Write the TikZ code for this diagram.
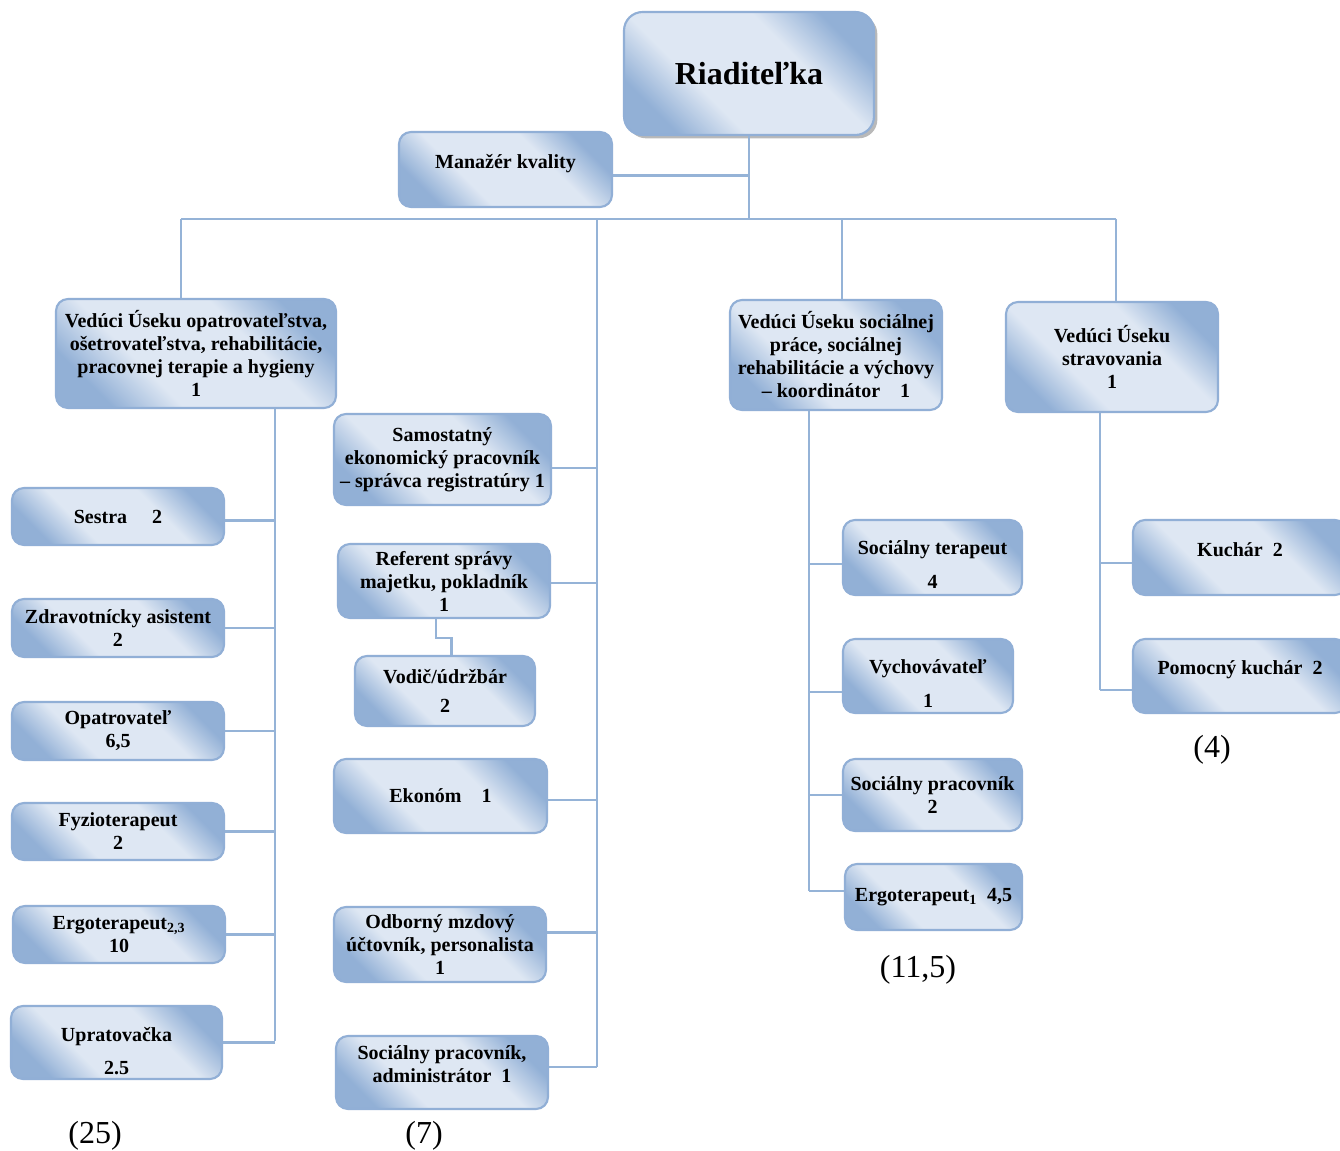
\documentclass[tikz,border=0pt]{standalone}
\usepackage{fontspec}
\setmainfont{Liberation Serif}
\usetikzlibrary{shadows,calc}
\definecolor{bdark}{RGB}{146,176,214}
\definecolor{blight}{RGB}{222,231,243}
\definecolor{bline}{RGB}{149,179,215}
\definecolor{bborder}{RGB}{145,175,214}
\pgfdeclarehorizontalshading{bxshade}{100bp}{color(0bp)=(bdark); color(25bp)=(bdark); color(38bp)=(blight); color(62bp)=(blight); color(75bp)=(bdark); color(100bp)=(bdark)}
\tikzset{
 box/.style={draw=bborder, line width=1.6pt, rounded corners=9pt,
   shading=bxshade, shading angle=45,
   align=center, inner sep=2pt, text=black,
   font=\bfseries\fontsize{15}{17.25}\selectfont},
 conn/.style={draw=bline, line width=1.8pt},
 total/.style={font=\fontsize{24}{28}\selectfont},
}
\newcommand\bx[7][]{\node[box,#1, minimum width={(#5-#3)*0.75pt}, minimum height={(#6-#4)*0.75pt}] (#2) at ({(#3+#5)/2},{(#4+#6)/2}) {#7};}
\begin{document}
\begin{tikzpicture}[x=0.75pt,y=-0.75pt]
\clip (0,0) rectangle (1340,1151);
\fill[white] (0,0) rectangle (1340,1151);
% boxes
\bx[rounded corners=14pt, drop shadow={shadow xshift=2.5pt, shadow yshift=-2.5pt, fill=black!50, opacity=.55}, font=\bfseries\fontsize{24}{28}\selectfont]{rd}{624}{12}{874}{135}{Riaditeľka}
\bx{mk}{399}{132}{612}{207}{Manažér kvality\\[-5pt]\mbox{}}
\bx{va}{56}{299}{336}{408}{Vedúci Úseku opatrovateľstva,\\ošetrovateľstva, rehabilitácie,\\pracovnej terapie a hygieny\\1}
\bx{vs}{730}{300}{942}{410}{Vedúci Úseku sociálnej\\práce, sociálnej\\rehabilitácie a výchovy\\– koordinátor\quad 1}
\bx{vt}{1006}{302}{1218}{412}{Vedúci Úseku\\stravovania\\1}
% middle column
\bx{se}{334}{414}{551}{505}{Samostatný\\ekonomický pracovník\\– správca registratúry 1}
\bx{re}{338}{544}{550}{618}{Referent správy\\majetku, pokladník\\1}
\bx{vo}{355}{656}{535}{726}{Vodič/údržbár\\[4.5pt]2}
\bx{ek}{334}{759}{547}{833}{Ekonóm\quad 1}
\bx{om}{334}{907}{546}{982}{Odborný mzdový\\účtovník, personalista\\1}
\bx{sa}{336}{1036}{548}{1109}{Sociálny pracovník,\\administrátor\enspace 1\\[-5pt]\mbox{}}
% left column
\bx{l1}{12}{488}{224}{545}{Sestra\quad\ 2}
\bx{l2}{12}{599}{224}{657}{Zdravotnícky asistent\\2}
\bx{l3}{12}{702}{224}{760}{Opatrovateľ\\6,5}
\bx{l4}{12}{803}{224}{860}{Fyzioterapeut\\2}
\bx{l5}{13}{906}{225}{963}{Ergoterapeut\textsubscript{2,3}\\10}
\bx{l6}{11}{1006}{222}{1079}{\rule{0pt}{23pt}Upratovačka\\[7.5pt]2.5}
% social column
\bx{s1}{843}{520}{1022}{595}{\rule{0pt}{21.5pt}Sociálny terapeut\\[8pt]4}
\bx{s2}{843}{639}{1013}{713}{\rule{0pt}{21.5pt}Vychovávateľ\\[8pt]1}
\bx{s3}{843}{759}{1022}{831}{Sociálny pracovník\\2}
\bx{s4}{845}{864}{1022}{930}{Ergoterapeut\textsubscript{1}\enspace 4,5}
% kitchen
\bx{k1}{1133}{520}{1347}{595}{Kuchár\enspace 2\\[-5pt]\mbox{}}
\bx{k2}{1133}{639}{1347}{713}{Pomocný kuchár\enspace 2\\[-5pt]\mbox{}}
% totals
\node[total] (t1) at (95,1136) {(25)};
\node[total] (t2) at (424,1136) {(7)};
\node[total] (t3) at (918,970) {(11,5)};
\node[total] (t4) at (1212,750) {(4)};
% junction coordinates
\coordinate (b1) at (181,219);
\coordinate (b2) at (597,219);
\coordinate (b3) at (842,219);
\coordinate (b4) at (1116,219);
\coordinate (mt) at (597,1067);
\coordinate (lt) at (275,1041);
\coordinate (st) at (809,891);
\coordinate (kt) at (1100,690);
% connectors
\draw[conn] (b1) -- (b4);
\draw[conn] (rd.south) -- (rd.south |- b1);
\draw[conn] ([yshift=-4.5pt]mk.east) -- ([yshift=-4.5pt]mk.east -| rd.south);
\draw[conn] (b1) -- (b1 |- va.north);
\draw[conn] (b3) -- (b3 |- vs.north);
\draw[conn] (b4) -- (b4 |- vt.north);
\draw[conn] (b2) -- (mt);
\draw[conn] ([yshift=-6.5pt]se.east) -- ([yshift=-6.5pt]se.east -| mt);
\draw[conn] ([yshift=-1.5pt]re.east) -- ([yshift=-1.5pt]re.east -| mt);
\draw[conn] ([yshift=-3pt]ek.east) -- ([yshift=-3pt]ek.east -| mt);
\draw[conn] ([yshift=9pt]om.east) -- ([yshift=9pt]om.east -| mt);
\draw[conn] ([yshift=4pt]sa.east) -- ([yshift=4pt]sa.east -| mt);
\draw[conn] ([xshift=-6pt]re.south) -- ++(0,-14pt) -| ([xshift=5pt]vo.north);
\draw[conn] (lt |- va.south) -- (lt);
\draw[conn] ([yshift=-3pt]l1.east) -- ([yshift=-3pt]l1.east -| lt);
\foreach \n in {l2,l3,l4,l5,l6} \draw[conn] (\n.east) -- (\n.east -| lt);
\draw[conn] (st |- vs.south) -- (st);
\draw[conn] ([yshift=-5pt]s1.west) -- ([yshift=-5pt]s1.west -| st);
\draw[conn] ([yshift=-12pt]s2.west) -- ([yshift=-12pt]s2.west -| st);
\draw[conn] (s3.west) -- (s3.west -| st);
\draw[conn] ([yshift=4.5pt]s4.west) -- ([yshift=4.5pt]s4.west -| st);
\draw[conn] (kt |- vt.south) -- (kt);
\draw[conn] ([yshift=-4pt]k1.west) -- ([yshift=-4pt]k1.west -| kt);
\draw[conn] ([yshift=-10.5pt]k2.west) -- ([yshift=-10.5pt]k2.west -| kt);
\end{tikzpicture}
\end{document}
